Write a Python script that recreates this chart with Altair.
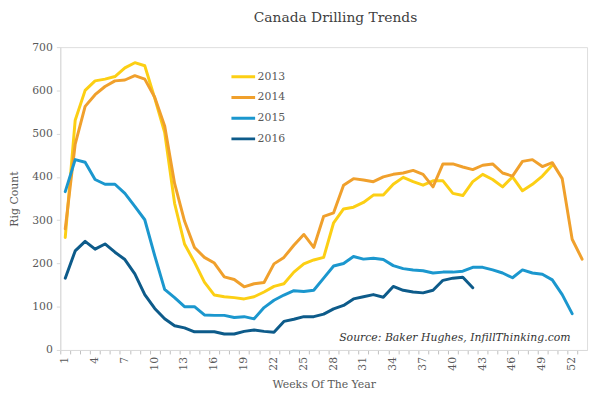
import altair as alt
import pandas as pd

years = ["2013", "2014", "2015", "2016"]
colors = ["#FCCF14", "#F0A02C", "#1B97CE", "#0D5B8A"]

rigs_2013 = [260, 531, 600, 622, 626, 632, 652, 664, 657, 582, 503, 339, 245, 203, 157,
             127, 123, 121, 118, 123, 134, 147, 153, 180, 199, 208, 214, 294, 326, 330,
             341, 358, 358, 383, 399, 389, 381, 391, 391, 362, 357, 389, 406, 394, 377,
             400, 368, 383, 402, 427]
rigs_2014 = [280, 476, 563, 590, 609, 622, 624, 634, 626, 584, 518, 385, 298, 237, 214,
             201, 169, 163, 146, 153, 156, 199, 214, 242, 267, 237, 309, 317, 381, 396,
             393, 389, 400, 406, 409, 415, 406, 377, 430, 430, 423, 417, 427, 430, 409,
             402, 436, 440, 424, 433, 396, 256, 210]
rigs_2015 = [366, 440, 434, 394, 383, 383, 362, 332, 301, 218, 140, 121, 100, 100, 81,
             80, 80, 75, 77, 72, 98, 115, 127, 137, 135, 138, 166, 194, 200, 216,
             210, 212, 209, 195, 188, 185, 183, 178, 180, 180, 182, 191, 191, 185, 178,
             167, 185, 178, 175, 162, 128, 84]
rigs_2016 = [166, 229, 251, 233, 245, 226, 209, 176, 128, 96, 72, 56, 51, 42, 42,
             42, 37, 37, 43, 46, 43, 41, 66, 71, 77, 77, 83, 95, 103, 118,
             123, 128, 122, 147, 138, 134, 132, 138, 161, 166, 168, 144]

y_ticks = [0, 100, 200, 300, 400, 500, 600, 700]
week_ticks = list(range(1, 54))
week_labels = [1, 4, 7, 10, 13, 16, 19, 22, 25, 28, 31, 34, 37, 40, 43, 46, 49, 52]

source_text = ["Source: Baker Hughes, InfillThinking.com"]
source_week = [40.2]
source_value = [27]

rows = []
for yr, series in zip(years, [rigs_2013, rigs_2014, rigs_2015, rigs_2016]):
    for i, v in enumerate(series):
        rows.append({"Year": yr, "Week": i + 1, "Rigs": v})
df = pd.DataFrame(rows)

src = pd.DataFrame({"text": source_text, "Week": source_week, "Rigs": source_value})
lab = pd.DataFrame({"Week": week_labels, "label": [str(w) for w in week_labels]})

FONT = "DejaVu Serif"
GRAY = "#595959"
PLOT_H = 307

lines = alt.Chart(df).mark_line(strokeWidth=3, strokeJoin="round", strokeCap="round").encode(
    x=alt.X("Week:Q", scale=alt.Scale(domain=[0.5, 53.5], nice=False, zero=False),
            title="Weeks Of The Year",
            axis=alt.Axis(values=week_ticks, labels=False,
                          tickOffset=-5, grid=False, tickSize=4,
                          domainColor="#D9D9D9", tickColor="#BFBFBF",
                          titleFont=FONT, titleFontSize=11, titleFontWeight="normal",
                          titleColor=GRAY, titlePadding=25)),
    y=alt.Y("Rigs:Q", scale=alt.Scale(domain=[0, 700], nice=False), title="Rig Count",
            axis=alt.Axis(values=y_ticks, grid=False, tickSize=4, labelPadding=4,
                          domainColor="#D9D9D9", tickColor="#D9D9D9",
                          labelFont=FONT, labelFontSize=11, labelColor=GRAY,
                          titleFont=FONT, titleFontSize=11, titleFontWeight="normal",
                          titleColor=GRAY, titlePadding=12)),
    color=alt.Color("Year:N", scale=alt.Scale(domain=years, range=colors),
                    legend=alt.Legend(title=None, orient="none", legendX=172, legendY=22,
                                      symbolType="stroke", symbolSize=576,
                                      symbolStrokeWidth=3, clipHeight=16, rowPadding=5,
                                      labelFont=FONT, labelFontSize=11, labelColor=GRAY,
                                      labelOffset=1)),
)

ticklabels = alt.Chart(lab).mark_text(font=FONT, fontSize=11, color=GRAY, angle=270,
                                      align="right", baseline="middle").encode(
    x=alt.X("Week:Q", scale=alt.Scale(domain=[0.5, 53.5], nice=False, zero=False), axis=None),
    y=alt.value(PLOT_H + 7),
    text="label:N",
)

note = alt.Chart(src).mark_text(font=FONT, fontStyle="italic", fontSize=11,
                                color="#333333", align="center", baseline="middle").encode(
    x=alt.X("Week:Q", scale=alt.Scale(domain=[0.5, 53.5], nice=False, zero=False), axis=None),
    y=alt.Y("Rigs:Q", scale=alt.Scale(domain=[0, 700], nice=False), axis=None),
    text="text:N",
)

chart = alt.layer(lines, ticklabels, note).resolve_scale(x="independent", y="independent").properties(
    width=534,
    height=PLOT_H,
    autosize=alt.AutoSizeParams(type="none"),
    padding={"left": 53, "top": 37, "right": 5, "bottom": 45},
    title=alt.TitleParams("Canada Drilling Trends", font=FONT, fontSize=14,
                          fontWeight="normal", color="#404040", anchor="middle",
                          dx=12, offset=16),
).configure_view(stroke=None, strokeWidth=0).configure(background="white")

chart.save("out.html", embed_options={"renderer": "svg", "actions": False})
